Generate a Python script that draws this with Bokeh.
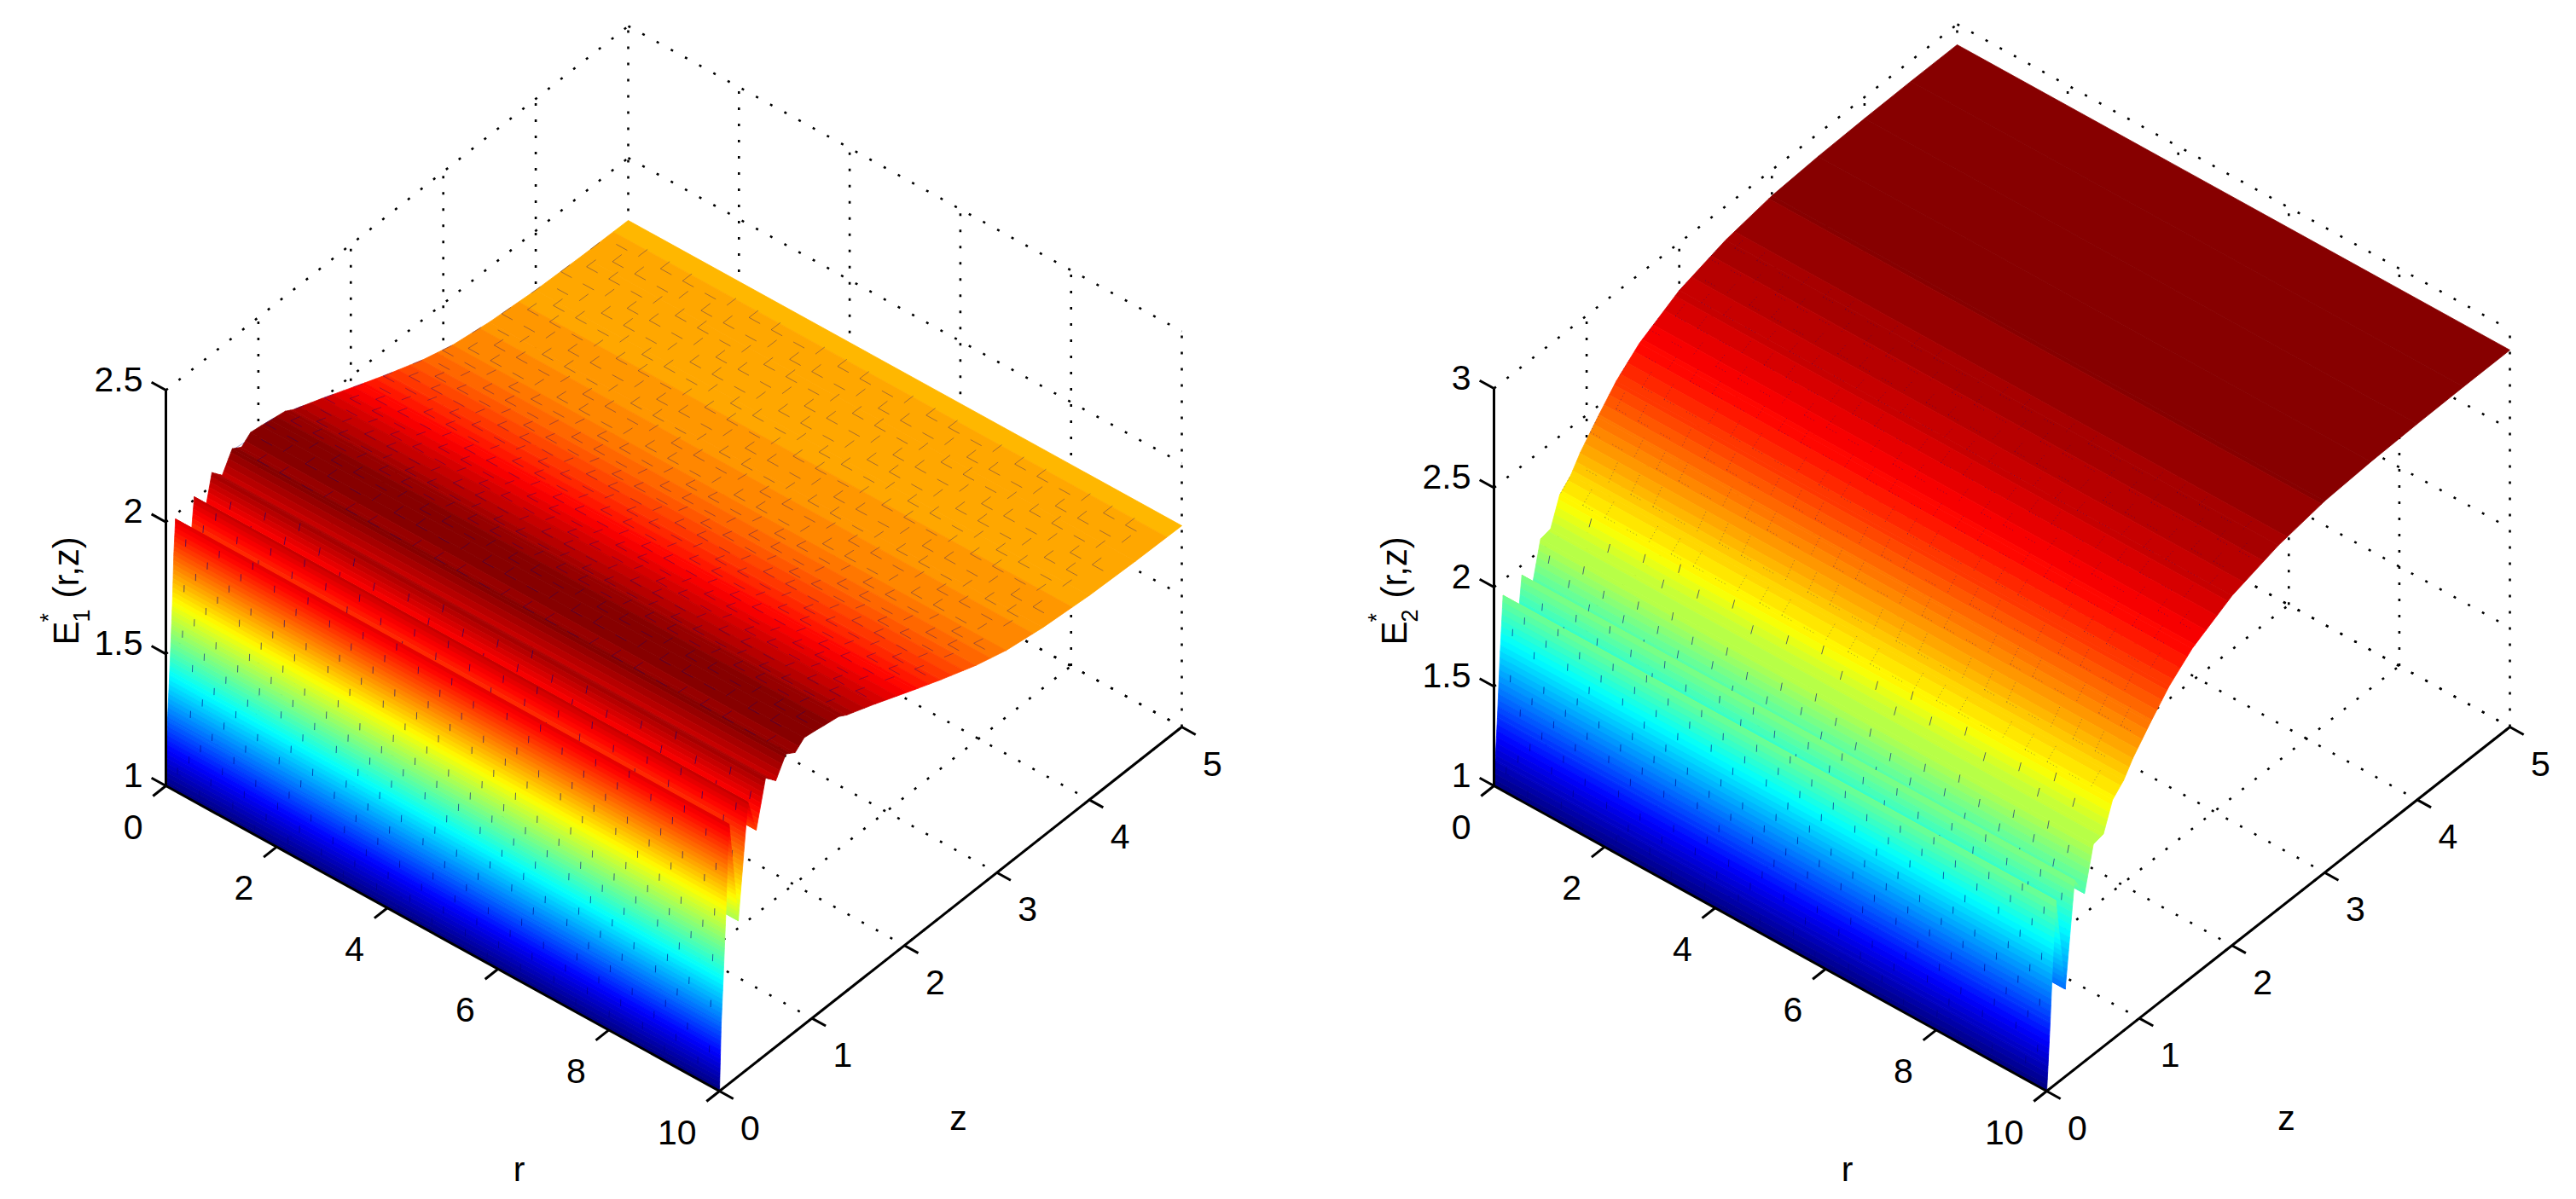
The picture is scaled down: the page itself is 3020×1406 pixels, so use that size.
import math
import numpy as np
from bokeh.embed import file_html
from bokeh.layouts import row
from bokeh.models import Range1d
from bokeh.plotting import figure
from bokeh.resources import INLINE
from bokeh.core.properties import value

# ---- values ----
R_RANGE = [0, 10]
Z_RANGE = [0, 5]
R_TICKS = [0, 2, 4, 6, 8, 10]
Z_TICKS = [0, 1, 2, 3, 4, 5]

Z1 = [0, 0.018, 0.040, 0.071, 0.086, 0.104, 0.203, 0.307, 0.397, 0.498, 0.609, 0.718,
      0.818, 0.916, 1.03, 1.132, 1.29, 1.377, 1.685, 2.115, 2.4, 2.777, 3.1, 3.5, 4.0, 4.5, 5.0]
E1 = [1.0, 1.247, 1.413, 1.676, 1.856, 1.983, 1.59, 2.011, 1.88, 2.05, 2.009, 2.08,
      2.058, 2.087, 2.081, 2.074, 2.064, 2.046, 2.003, 1.939, 1.898, 1.848, 1.815, 1.792,
      1.775, 1.767, 1.763]
E1_TICKS = [1, 1.5, 2, 2.5]
E1_TICK_LABELS = ["1", "1.5", "2", "2.5"]
E1_LIM = [1.0, 2.087]

Z2 = [0, 0.015, 0.037, 0.067, 0.098, 0.2, 0.301, 0.408, 0.503, 0.612, 0.71, 0.83, 0.93,
      1.12, 1.32, 1.57, 2.0, 2.5, 3.0, 3.5, 4.0, 4.5, 5.0]
E2 = [1.0, 1.128, 1.334, 1.65, 1.923, 1.44, 1.95, 1.845, 2.058, 2.07, 2.205, 2.26, 2.335,
      2.445, 2.553, 2.652, 2.76, 2.83, 2.87, 2.885, 2.892, 2.896, 2.897]
E2_TICKS = [1, 1.5, 2, 2.5, 3]
E2_TICK_LABELS = ["1", "1.5", "2", "2.5", "3"]
E2_LIM = [1.0, 2.897]

LEFT_GEOM = dict(x0=194, y0=921, xr=64.9, yr=35.8, xz=108.4, yz=85.4, k=309.3)
RIGHT_GEOM = dict(x0=1751, y0=921, xr=64.8, yr=35.8, xz=108.6, yz=85.4, k=233.0)

SANS = "Liberation Sans, Arial, sans-serif"


def jet(f):
    f = min(max(f, 0.0), 1.0)
    def ramp(c):
        return min(max(1.5 - 4 * abs(f - c), 0.0), 1.0)
    return "#%02x%02x%02x" % (int(255 * ramp(0.75)), int(255 * ramp(0.5)), int(255 * ramp(0.25)))


def make_panel(Z, E, lim, e_ticks, e_labels, geom, sub, x_start, x_end, marks):
    p = figure(width=x_end - x_start, height=1398, output_backend="svg", toolbar_location=None,
               x_range=Range1d(x_start, x_end), y_range=Range1d(1398, 0), min_border=0)
    p.axis.visible = False
    p.grid.visible = False
    p.outline_line_color = None

    def pr(r, z, e):
        return (geom["x0"] + r * geom["xr"] + z * geom["xz"],
                geom["y0"] + r * geom["yr"] - z * geom["yz"] - (e - 1) * geom["k"])

    e_top = e_ticks[-1]
    z_end, r_end = Z_RANGE[1], R_RANGE[1]

    def seg(a, b):
        pa, pb = pr(*a), pr(*b)
        return [pa[0], pb[0]], [pa[1], pb[1]]

    # dotted box grid
    gl = []
    for r in R_TICKS[1:]:
        gl.append(seg((r, 0, 1), (r, z_end, 1)))
        gl.append(seg((r, z_end, 1), (r, z_end, e_top)))
    for z in Z_TICKS[1:]:
        gl.append(seg((0, z, 1), (r_end, z, 1)))
        gl.append(seg((0, z, 1), (0, z, e_top)))
    for e in e_ticks:
        gl.append(seg((0, 0, e), (0, z_end, e)))
        gl.append(seg((0, z_end, e), (r_end, z_end, e)))
    p.multi_line([g[0] for g in gl], [g[1] for g in gl], line_color="black", line_width=2.6,
                 line_dash=value("3 16"))

    # surface, far strips first
    n_levels = 64
    span = lim[1] - lim[0]
    steps = 52.0 / geom["k"]
    dash_e = 8.0 / geom["k"]
    for i in range(len(Z) - 2, -1, -1):
        z0, z1, e0, e1 = Z[i], Z[i + 1], E[i], E[i + 1]
        cuts = [0.0, 1.0]
        lo, hi = min(e0, e1), max(e0, e1)
        for l in range(n_levels + 1):
            lev = lim[0] + span * l / n_levels
            if lo < lev < hi:
                cuts.append((lev - e0) / (e1 - e0))
        cuts.sort()
        xs, ys, cs = [], [], []
        for a, b in reversed(list(zip(cuts[:-1], cuts[1:]))):
            za, zb = z0 + a * (z1 - z0), z0 + b * (z1 - z0)
            ea, eb = e0 + a * (e1 - e0), e0 + b * (e1 - e0)
            c1, c2, c3, c4 = pr(0, za, ea), pr(r_end, za, ea), pr(r_end, zb, eb), pr(0, zb, eb)
            xs.append([c1[0], c2[0], c3[0], c4[0]])
            ys.append([c1[1], c2[1], c3[1], c4[1]])
            level = min(int((0.5 * (ea + eb) - lim[0]) / span * n_levels), n_levels - 1)
            cs.append(jet((level + 0.5) / n_levels))
        p.patches(xs, ys, fill_color=cs, line_color=cs, line_width=0.8)

        # moire dashes of the mesh on steep rising faces
        if e1 > e0 and (e1 - e0) / (z1 - z0) > 1.0:
            mx, my = [], []
            for k in range(1, 50):
                r = 0.2 * k
                phase = (k * 0.382) % 1.0
                n = 0
                while True:
                    ev = 1 + (n + phase) * steps
                    n += 1
                    if ev + dash_e > e1:
                        break
                    if ev < e0:
                        continue
                    ta = (ev - e0) / (e1 - e0)
                    tb = (ev + dash_e - e0) / (e1 - e0)
                    a = pr(r, z0 + ta * (z1 - z0), ev)
                    b = pr(r, z0 + tb * (z1 - z0), ev + dash_e)
                    mx.append([a[0], b[0]])
                    my.append([a[1], b[1]])
            if mx:
                p.multi_line(mx, my, line_color="#000080", line_width=1.0, line_alpha=0.6)

    # moire marks of the mesh on the gentle part of the surface
    mx, my = [], []
    zz = np.array(Z)
    ee = np.array(E)
    for j in range(marks["nz"]):
        z = marks["z0"] + j * marks["dz"]
        if z >= z_end - 0.12:
            break
        for i in range(0, 25):
            r = 0.4 * i + 0.2 * (j % 2)
            if r > r_end - 0.3:
                continue
            sel = (i * 3 + j * 5) % 4
            if sel != 0:
                a = pr(r, z, float(np.interp(z, zz, ee)))
                b = pr(r + 0.2, z, float(np.interp(z, zz, ee)))
                mx.append([a[0], b[0]])
                my.append([a[1], b[1]])
            if sel != 1:
                a = pr(r, z, float(np.interp(z, zz, ee)))
                z2 = z + 0.1
                b = pr(r, z2, float(np.interp(z2, zz, ee)))
                mx.append([a[0], b[0]])
                my.append([a[1], b[1]])
    p.multi_line(mx, my, line_color="#000080", line_width=marks["w"], line_alpha=marks["a"],
                 line_dash=value(marks["dash"]))

    # solid axes
    ax = [seg((0, 0, 1), (0, 0, e_top)), seg((0, 0, 1), (r_end, 0, 1)), seg((r_end, 0, 1), (r_end, z_end, 1))]
    for e in e_ticks:
        ax.append(seg((0, 0, e), (-0.26, 0, e)))
    for r in R_TICKS:
        ax.append(seg((r, 0, 1), (r, -0.14, 1)))
    for z in Z_TICKS:
        ax.append(seg((r_end, z, 1), (r_end + 0.25, z, 1)))
    p.multi_line([g[0] for g in ax], [g[1] for g in ax], line_color="black", line_width=3)

    def txt(x, y, s, size, align="center", base="middle", angle=0.0):
        p.text([x], [y], text=[s], text_font=value(SANS), text_font_size=f"{size}px",
               text_align=align, text_baseline=base, angle=angle, text_color="black")

    for e, lab in zip(e_ticks, e_labels):
        x, y = pr(0, 0, e)
        txt(x - 27, y - 13, lab, 41, align="right")
    for r in R_TICKS:
        x, y = pr(r, 0, 1)
        txt(x - 27, y + 48, str(r), 41, align="right")
    for z in Z_TICKS:
        x, y = pr(r_end, z, 1)
        txt(x + 36, y + 43, str(z), 41)

    ox = geom["x0"] - 194
    txt(608 + ox, 1370, "r", 41)
    txt(1123 + ox, 1310, "z", 41)
    up = math.pi / 2
    txt(77 + ox, 756, "E", 42, "left", "alphabetic", up)
    txt(95 + ox, 729, sub, 27, "left", "alphabetic", up)
    txt(56 + ox, 729, "*", 27, "left", "alphabetic", up)
    txt(77 + ox, 701, "(r,z)", 42, "left", "alphabetic", up)
    return p


left = make_panel(Z1, E1, E1_LIM, E1_TICKS, E1_TICK_LABELS, LEFT_GEOM, "1", 0, 1502,
                  dict(z0=0.75, dz=0.16, nz=27, w=1.0, a=0.35, dash="solid"))
right = make_panel(Z2, E2, E2_LIM, E2_TICKS, E2_TICK_LABELS, RIGHT_GEOM, "2", 1502, 3004,
                   dict(z0=0.72, dz=0.16, nz=12, w=1.0, a=0.4, dash="1 3"))
page = row(left, right, spacing=0)
open("out.html", "w").write(file_html(page, INLINE))
